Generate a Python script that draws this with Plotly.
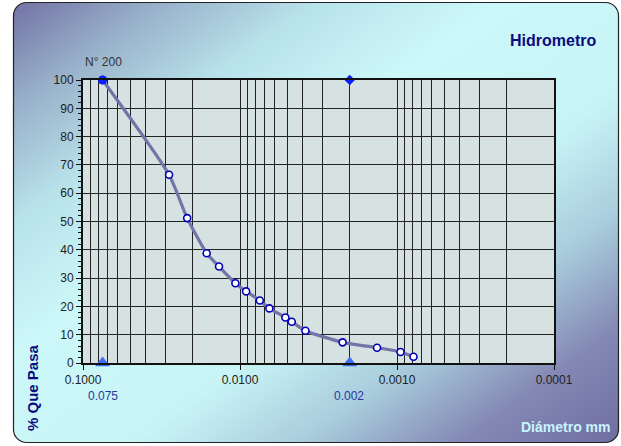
import base64
import plotly.graph_objects as go

# ---- data ----
diam_mm = [0.075, 0.0283, 0.0217, 0.0163, 0.0136, 0.0107, 0.00914, 0.00748,
           0.0065, 0.00514, 0.00468, 0.00383, 0.00222, 0.00134, 0.00095, 0.000785]
pct_pass = [100, 66.5, 51.2, 38.8, 34.1, 28.2, 25.3, 22.1,
            19.3, 16.1, 14.6, 11.4, 7.3, 5.4, 3.9, 2.2]
limit_x = [0.075, 0.002]
limit_labels = ["0.075", "0.002"]
x_tickvals = [0.1, 0.01, 0.001, 0.0001]
x_ticktext = ["0.1000", "0.0100", "0.0010", "0.0001"]
y_tickvals = list(range(0, 101, 10))

W, H = 621, 446
ML, MR, MT, MB = 83, 67, 80, 83
pw, ph = W - ML - MR, H - MT - MB

svg = f"""<svg xmlns='http://www.w3.org/2000/svg' width='{W}' height='{H}' viewBox='0 0 {W} {H}' preserveAspectRatio='none'>
<defs><linearGradient id='g' x1='0' y1='0' x2='1' y2='1'>
<stop offset='0' stop-color='#7272a4'/>
<stop offset='0.12' stop-color='#98b0ca'/>
<stop offset='0.25' stop-color='#b8e2ea'/>
<stop offset='0.4' stop-color='#cdf8f9'/>
<stop offset='0.6' stop-color='#c8f4f6'/>
<stop offset='0.74' stop-color='#a8ccdc'/>
<stop offset='0.87' stop-color='#8488b4'/>
<stop offset='1' stop-color='#6e6ea0'/>
</linearGradient></defs>
<rect x='13.5' y='2.5' width='605' height='440' rx='13' ry='13' fill='url(#g)' stroke='#222' stroke-width='1.2'/>
</svg>"""
src = "data:image/svg+xml;base64," + base64.b64encode(svg.encode()).decode()

minor_vals = []
for d in [0.1, 0.01, 0.001]:
    for k in range(2, 10):
        minor_vals.append(round(d * k / 10, 8))

fig = go.Figure()

# triangles at limits (drawn first, beneath the curve)
fig.add_trace(go.Scatter(
    x=limit_x, y=[0, 0], mode="markers",
    marker=dict(symbol="triangle-up", size=13, color="#3f6df0"),
    cliponaxis=False))

# smoothed curve with open markers
fig.add_trace(go.Scatter(
    x=diam_mm, y=pct_pass, mode="lines+markers",
    line=dict(color="#7474a8", width=3.2, shape="spline", smoothing=0.6),
    marker=dict(symbol="circle", size=7, color="white",
                line=dict(color="#0000b4", width=1.6)),
    cliponaxis=False, hoverinfo="x+y"))

# first point (N° 200) filled
fig.add_trace(go.Scatter(
    x=diam_mm[:1], y=pct_pass[:1], mode="markers",
    marker=dict(symbol="circle", size=9, color="#0a1eff"),
    cliponaxis=False))

# diamond at 0.002 / 100
fig.add_trace(go.Scatter(
    x=[limit_x[1]], y=[100], mode="markers",
    marker=dict(symbol="diamond", size=8, color="#0a1eff"),
    cliponaxis=False))

FONT = "Arial, Liberation Sans"


def ann(text, px, py, size, color, angle=0):
    return dict(text=text, x=(px - ML) / pw, y=(H - py - MB) / ph,
                xref="paper", yref="paper", xanchor="center", yanchor="middle",
                showarrow=False, textangle=angle,
                font=dict(size=size, color=color, family=FONT))


annotations = [
    ann("<b>Hidrometro</b>", 553, 40, 16, "#0c0c80"),
    ann("N° 200", 103, 62, 12, "#333"),
    ann("<b>% Que Pasa</b>", 32, 388, 15, "#0c0c80", -90),
    ann("<b>Diámetro mm</b>", 565, 427, 14, "#c8f4ff"),
]
for lt, px in zip(limit_labels, [103, 349]):
    annotations.append(ann(lt, px, 396, 12, "#2838a0"))

fig.update_layout(
    width=W, height=H,
    margin=dict(l=ML, r=MR, t=MT, b=MB, pad=0),
    paper_bgcolor="white",
    plot_bgcolor="#d6e2e2",
    showlegend=False,
    font=dict(family=FONT, size=12, color="#222"),
    annotations=annotations,
    images=[dict(source=src, xref="paper", yref="paper",
                 x=-ML / pw, y=1 + MT / ph, sizex=W / pw, sizey=H / ph,
                 xanchor="left", yanchor="top", sizing="stretch", layer="below")],
    shapes=[dict(type="rect", xref="paper", yref="paper", x0=0, x1=1, y0=0, y1=1,
                 fillcolor="#d6e2e2", line=dict(width=0), layer="below")],
)

fig.update_xaxes(
    type="log", range=[-1, -4],
    tickvals=x_tickvals, ticktext=x_ticktext,
    ticks="outside", ticklen=5, tickcolor="#111",
    showgrid=True, gridcolor="#222", gridwidth=1,
    minor=dict(tickvals=minor_vals, showgrid=True, gridcolor="#222", gridwidth=1, ticks=""),
    showline=True, linecolor="#111", linewidth=2, mirror=True,
    zeroline=False, tickfont=dict(size=12, color="#222"),
)
fig.update_yaxes(
    range=[0, 100], tickvals=y_tickvals,
    ticks="outside", ticklen=5, tickcolor="#111",
    minor=dict(dtick=2, ticks="outside", ticklen=3, tickcolor="#111", showgrid=False),
    showgrid=True, gridcolor="#222", gridwidth=1,
    showline=True, linecolor="#111", linewidth=2, mirror=True,
    zeroline=False, tickfont=dict(size=12, color="#222"),
)

fig.write_html("out.html", config={"displayModeBar": False},
               post_script="document.body.style.margin='0px';")
